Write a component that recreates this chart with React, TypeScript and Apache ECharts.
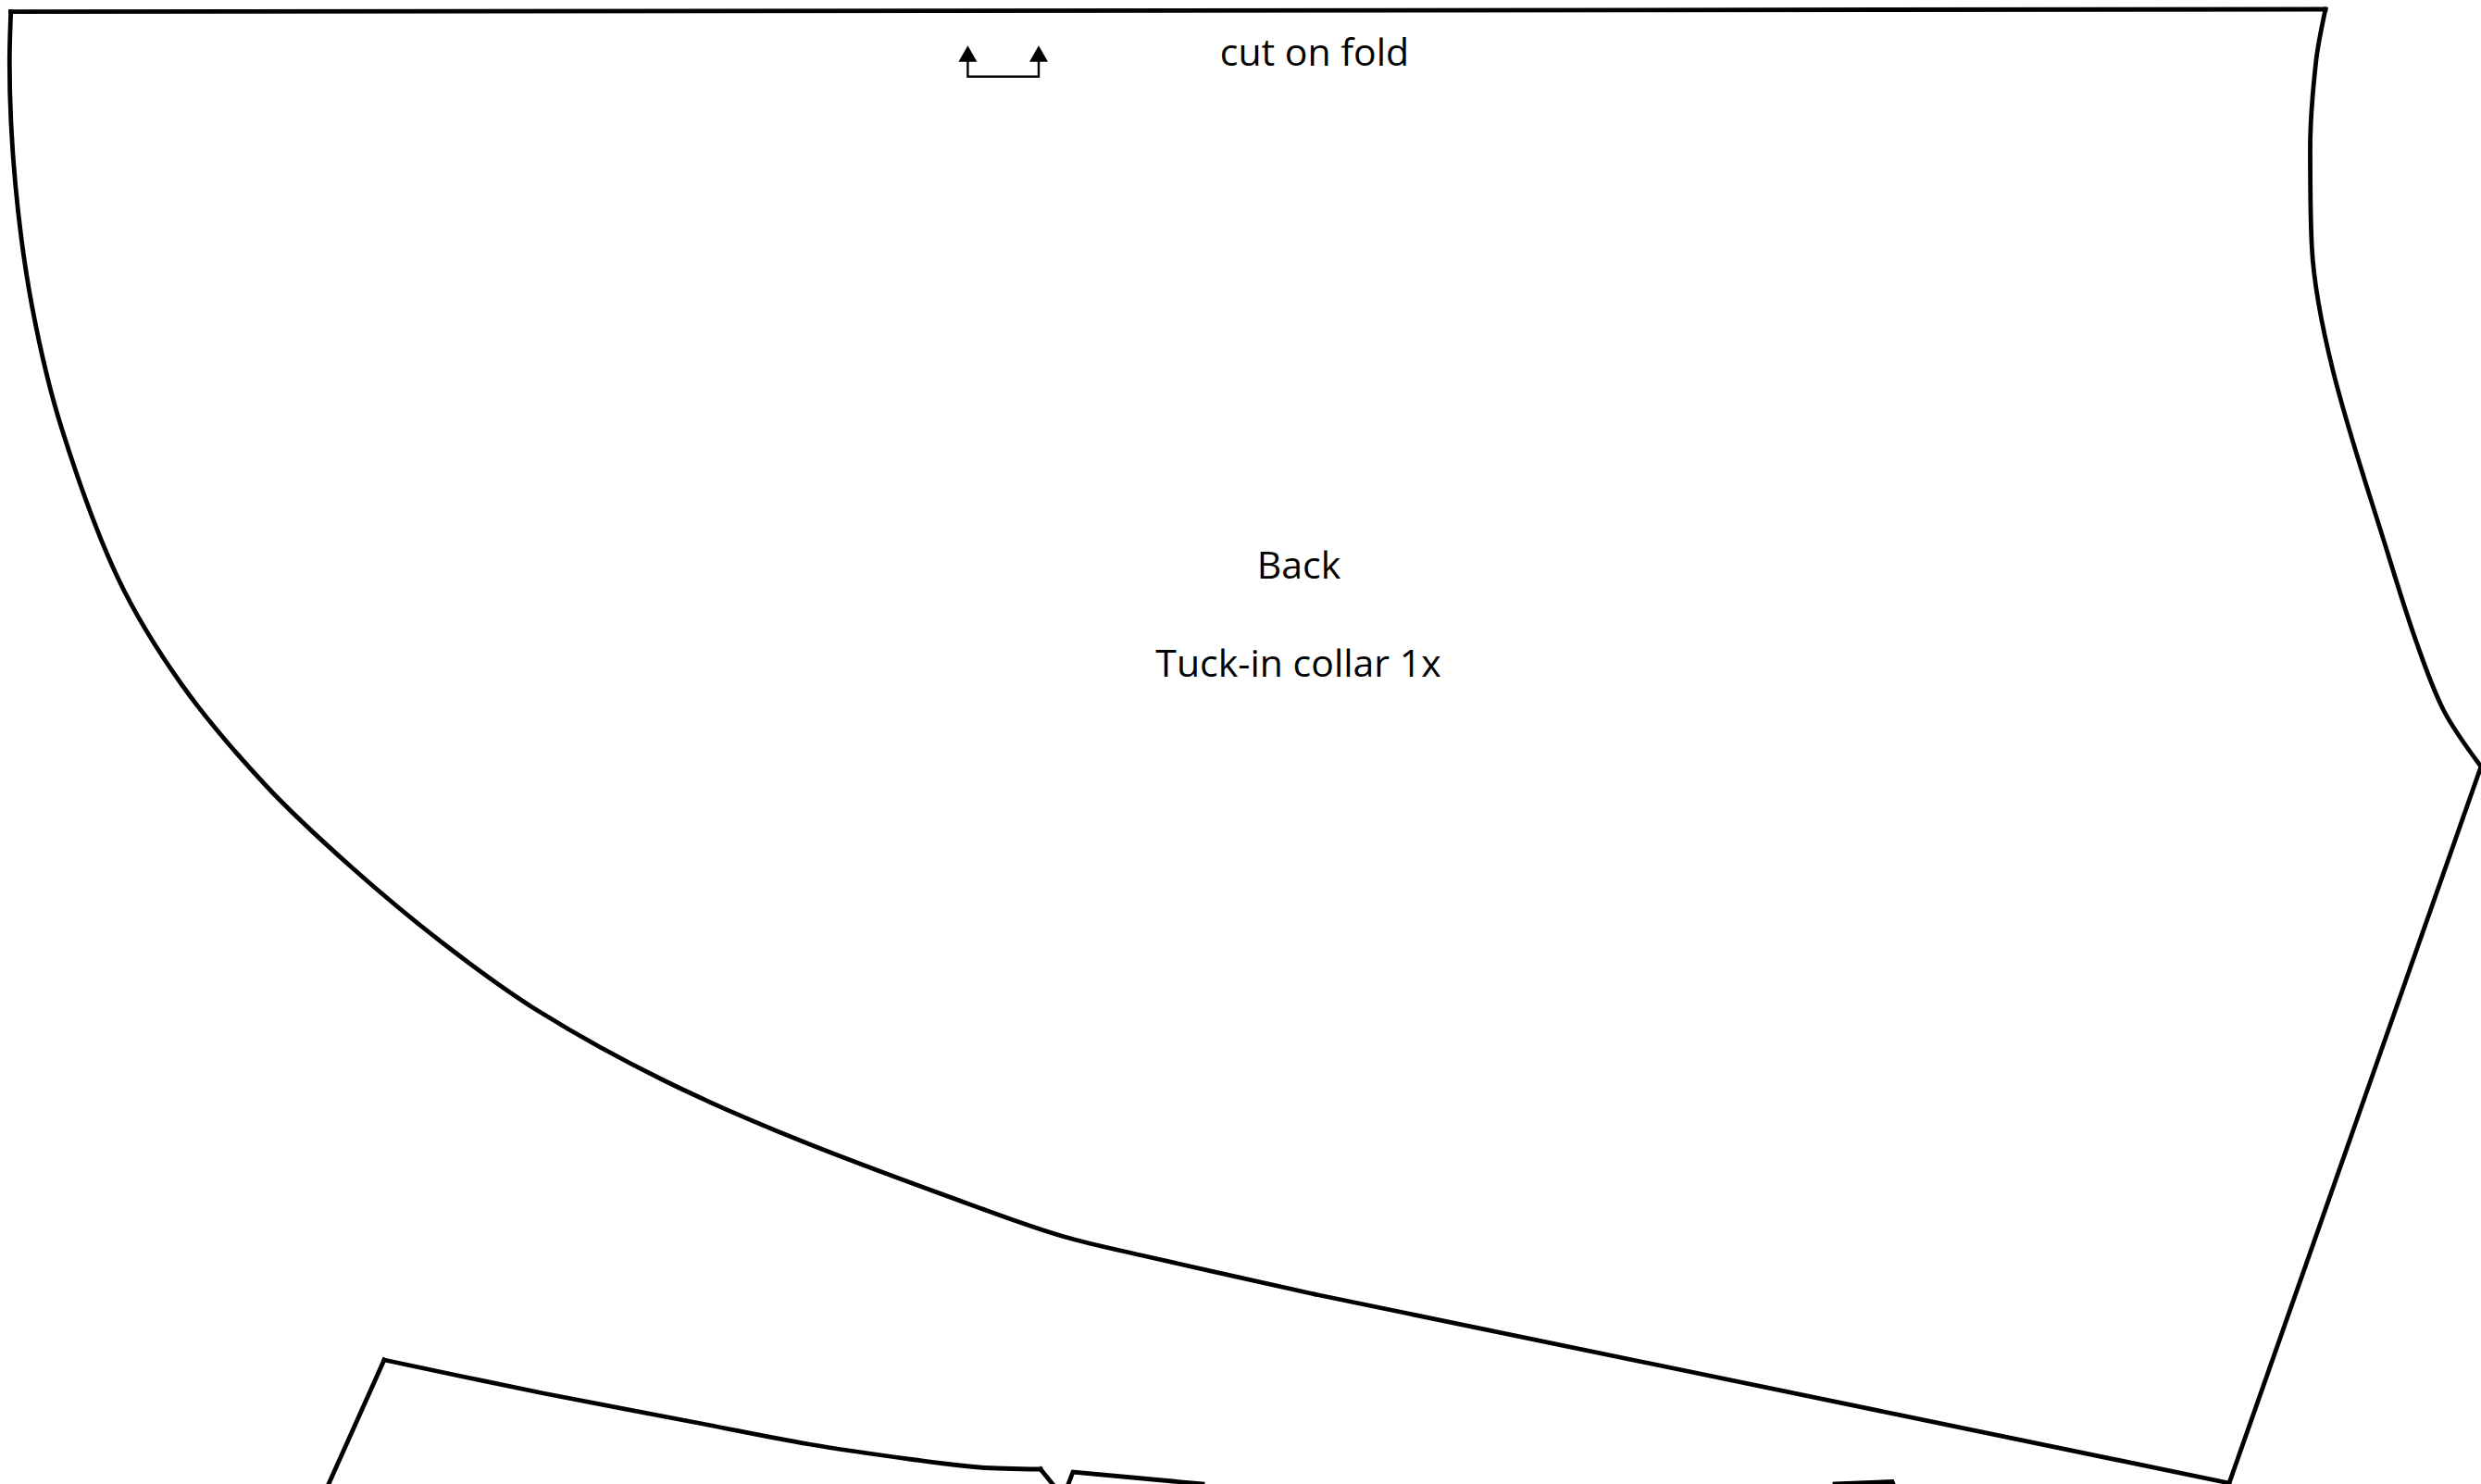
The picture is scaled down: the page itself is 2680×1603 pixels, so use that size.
import React, { useEffect, useRef } from "react";
import * as echarts from "echarts";

const W = 2680;
const H = 1603;

const topEdge = [[11.7, 12.7], [2512, 10]];
const leftCurve = [
  [11.7, 12.7], [10.3, 67], [16.7, 200], [35, 333], [66.7, 463], [126.7, 623], [196.7, 740],
  [286.7, 848], [380, 937], [480, 1020], [583, 1093], [717, 1167], [867, 1233], [1067, 1308],
  [1150, 1336], [1233, 1356], [1420, 1398],
];
const bottomEdge = [[1420, 1398], [2408, 1602]];
const rightEdge = [[2408, 1602], [2680, 828]];
const rightCurve = [
  [2512, 10], [2501.7, 67], [2495.5, 160], [2497.3, 267], [2520, 400], [2580, 600], [2610, 693],
  [2640, 768], [2680, 828],
];
const lowerLeftShape = [[355, 1603], [415, 1469]];
const lowerTopCurve = [
  [415, 1469], [587, 1505], [759, 1538], [874, 1560], [989, 1577], [1058, 1585], [1124, 1587],
];
const lowerNotch = [[1124, 1587], [1137, 1603]];
const lowerMidLeft = [[1154, 1603], [1159, 1590], [1299, 1603]];
const lowerMidRight = [[1982, 1603], [2044, 1600.5], [2045, 1603]];
const foldBracket = [[1045.4, 66], [1045.4, 82.7], [1122, 82.7], [1122, 66]];
const foldArrows = [[1045.4, 58], [1122, 58]];
const labelTexts = [
  { text: "cut on fold", x: 1420, y: 55 },
  { text: "Back", x: 1403, y: 609 },
  { text: "Tuck-in collar 1x", x: 1402.5, y: 715 },
];

const BLACK = "#000000";

function outline(data: number[][], smooth: boolean | number = false, width = 4.8) {
  return {
    type: "line",
    data,
    smooth,
    showSymbol: false,
    symbol: "none",
    silent: true,
    lineStyle: { color: BLACK, width, cap: "square", join: "miter" },
  };
}

export default function App() {
  const ref = useRef<HTMLDivElement>(null);
  useEffect(() => {
    document.body.style.margin = "0";
    document.body.style.background = "#ffffff";
    const chart = echarts.init(ref.current!, undefined, { renderer: "svg" });
    chart.setOption({
      animation: false,
      backgroundColor: "#ffffff",
      grid: { left: 0, right: 0, top: 0, bottom: 0 },
      xAxis: { type: "value", min: 0, max: W, show: false },
      yAxis: { type: "value", min: 0, max: H, inverse: true, show: false },
      series: [
        outline(topEdge),
        outline(leftCurve, 0.33),
        outline(bottomEdge),
        outline(rightEdge),
        outline(rightCurve, 0.33),
        outline(lowerLeftShape),
        outline(lowerTopCurve, 0.33),
        outline(lowerNotch),
        outline(lowerMidLeft),
        outline(lowerMidRight),
        outline(foldBracket, false, 2.4),
        {
          type: "scatter",
          data: foldArrows,
          symbol: "triangle",
          symbolSize: [20, 17.5],
          silent: true,
          itemStyle: { color: BLACK, opacity: 1 },
        },
        {
          type: "scatter",
          data: labelTexts.map((d) => ({ value: [d.x, d.y], name: d.text })),
          symbolSize: 0,
          silent: true,
          itemStyle: { opacity: 1 },
          label: {
            show: true,
            position: "inside",
            formatter: "{b}",
            color: BLACK,
            opacity: 1,
            fontFamily: "Open Sans",
            fontSize: 41,
            align: "center",
            verticalAlign: "middle",
          },
        },
      ],
    });
    return () => chart.dispose();
  }, []);
  return <div ref={ref} style={{ position: "fixed", left: 0, top: 0, width: W, height: H }} />;
}
